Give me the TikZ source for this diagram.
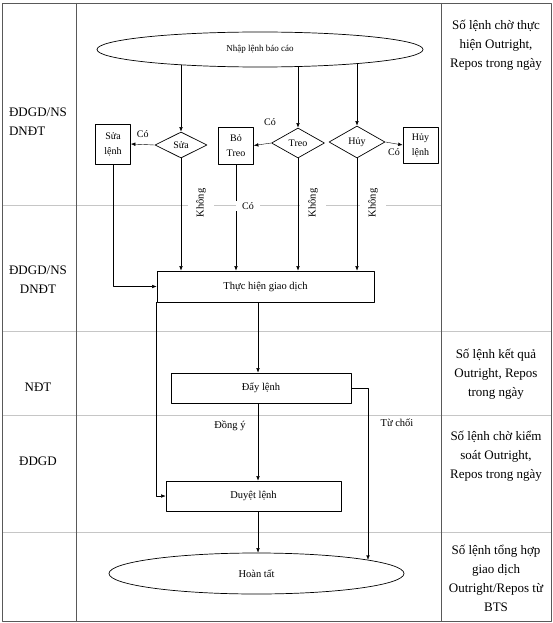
\documentclass[tikz,border=0pt]{standalone}
\usepackage{fontspec}
\setmainfont{Liberation Serif}
\usetikzlibrary{arrows.meta,shapes.geometric,positioning}
\begin{document}
\begin{tikzpicture}[x=1pt,y=-1pt,font=\fontsize{10}{15}\selectfont,line join=round,>={Latex[length=4.5pt,width=3.5pt]}]
				\tikzset{hop/.style={draw,line width=0.7pt,inner sep=0pt,align=center},
					elip/.style={draw,ellipse,line width=0.7pt,inner sep=0pt},
					thoi/.style={draw,diamond,line width=0.7pt,inner sep=0pt},
					nhan/.style={fill=white,inner sep=1pt},
					to/.style={font=\fontsize{10.5}{15}\selectfont},
					cot/.style={font=\fontsize{13}{19}\selectfont,align=center},
					luoi/.style={gray!45,line width=0.8pt},
					khung/.style={black!65,line width=0.9pt}}
				\useasboundingbox (0,0) rectangle (553,623);
				\draw[luoi] (2,205)--(441,205);
				\foreach \y in {331,415,532}
				\draw[luoi] (2,\y)--(551,\y);
				\draw[khung] (2,3) rectangle (551,621);
				\draw[khung] (76,3)--(76,621);
				\draw[khung] (441,3)--(441,621);
				\node[cot,align=left] (tg1) at (38,122) {ĐDGD/NS\\DNĐT};
				\node[cot] (tg2) at (38,280) {ĐDGD/NS\\DNĐT};
				\node[cot] (tg3) at (38,387) {NĐT};
				\node[cot] (tg4) at (38,461) {ĐDGD};
				\node[cot] (so1) at (496,45) {Số lệnh chờ thực\\hiện Outright,\\Repos trong ngày};
				\node[cot] (so2) at (496,374) {Số lệnh kết quả\\Outright, Repos\\trong ngày};
				\node[cot] (so3) at (496,456) {Số lệnh chờ kiểm\\soát Outright,\\Repos trong ngày};
				\node[cot] (so4) at (496,578) {Số lệnh tổng hợp\\giao dịch\\Outright/Repos từ\\BTS};
				\node[elip,font=\fontsize{9}{12}\selectfont,minimum width=326pt,minimum height=35pt] (nhap) at (260,49.5) {Nhập lệnh báo cáo};
				\node[thoi,minimum width=52pt,minimum height=26pt] (sua) at (181,145) {Sửa};
				\node[thoi,minimum width=53pt,minimum height=30pt] (treo) at (298,143) {Treo};
				\node[thoi,minimum width=56pt,minimum height=32pt] (huy) at (357,142) {Hủy};
				\node[hop,minimum width=35pt,minimum height=40pt] (sualenh) at (113,144) {Sửa\\lệnh};
				\node[hop,minimum width=35pt,minimum height=37pt] (botreo) at (236,145.5) {Bỏ\\Treo};
				\node[hop,minimum width=35pt,minimum height=36pt] (huylenh) at (420.5,145) {Hủy\\lệnh};
				\node[hop,to,minimum width=217pt,minimum height=31pt] (thuc) at (265.5,286.5) {Thực hiện giao dịch};
				\node[hop,to,minimum width=180pt,minimum height=30pt] (day) at (261,388) {Đẩy lệnh};
				\node[hop,to,minimum width=175pt,minimum height=30pt] (duyet) at (253.5,496) {Duyệt lệnh};
				\node[elip,to,minimum width=295pt,minimum height=41pt] (hoan) at (256.5,573.5) {Hoàn tất};
				\coordinate (truc) at (258,0);
				\draw[->] (sua.north |- nhap.191)--(sua.north);
				\draw[->] (treo.north |- nhap.336)--(treo.north);
				\draw[->] (huy.north |- nhap.352)--(huy.north);
				\draw[->] (sua.west)--(sualenh.east) node[midway,above=3pt]{Có};
				\draw[->] (treo.west)--(botreo.east);
				\draw[->] (huy.east)--(huylenh.west) node[midway,below=2pt]{Có};
				\node (co2) at (270,122) {Có};
				\foreach \n in {sua,botreo,treo,huy}
				\draw[->] (\n.south)--(\n.south |- thuc.north);
				\draw[->] (sualenh.south) |- (thuc.west);
				\node[nhan,to,rotate=90,minimum height=26pt] (kh1) at (201,203) {Không};
				\node[nhan,to,rotate=90,minimum height=26pt] (kh2) at (313,203) {Không};
				\node[nhan,to,rotate=90,minimum height=26pt] (kh3) at (373,203) {Không};
				\node[nhan,minimum width=24pt] (co3) at (248,206) {Có};
				\draw[->] (thuc.south -| truc)--(day.north -| truc);
				\draw[->] (day.south -| truc)--(duyet.north -| truc);
				\draw[->] (thuc.south west) |- (duyet.west);
				\draw[->] (day.east) -| (hoan.7);
				\draw[->] (duyet.south -| truc)--(hoan.north -| truc);
				\node[to] (dongy) at (230,426) {Đồng ý};
				\node[to] (tuchoi) at (397,423) {Từ chối};
			\end{tikzpicture}
\end{document}
